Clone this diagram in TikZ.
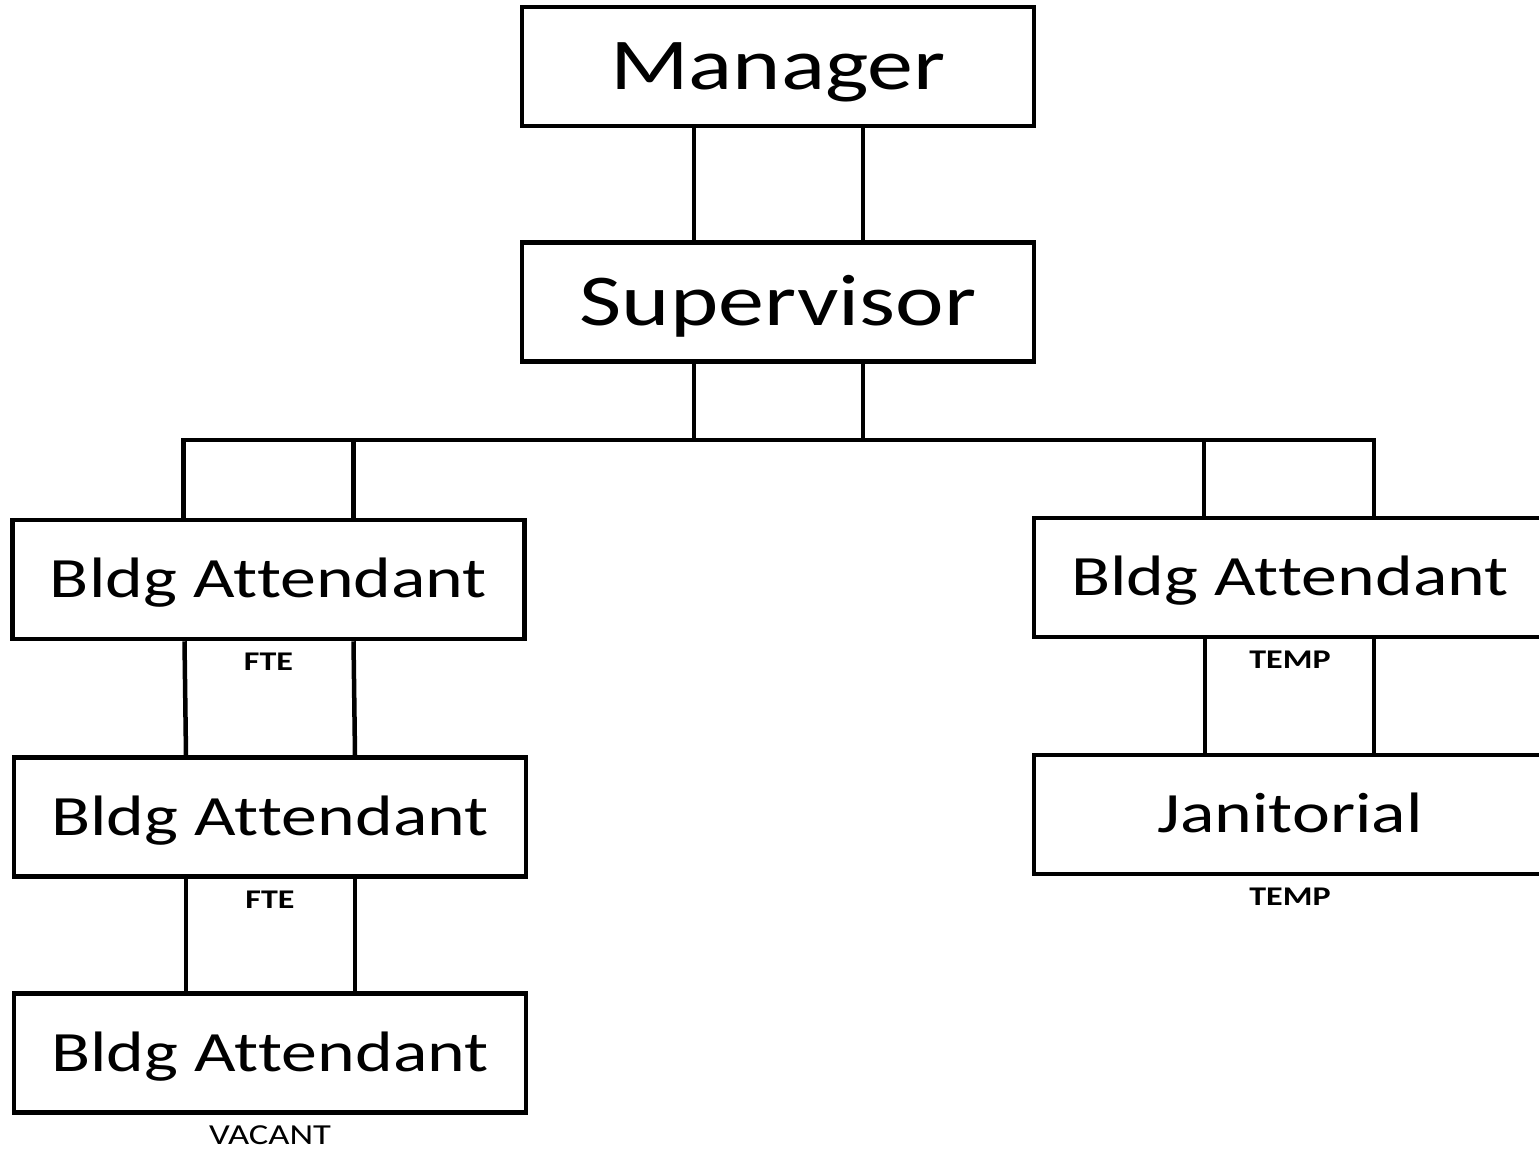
\documentclass[tikz,border=0pt]{standalone}
\usepackage{fontspec}
\setmainfont{Carlito}[FakeStretch=1.26, Ligatures={NoCommon,NoContextual}]
\usetikzlibrary{calc}

\tikzset{
  box/.style={draw, line width=4.5pt, minimum width=512pt, minimum height=119pt, inner sep=0pt, text depth=0pt},
  big/.style={box, font=\fontsize{73}{80}\selectfont, text height=46pt},
  mid/.style={box, font=\fontsize{57}{62}\selectfont, text height=36pt},
  tag/.style={below=12.5pt, inner sep=0pt, text height=17pt, text depth=0pt, font=\fontsize{27}{30}\selectfont\bfseries},
  link/.style={line width=4.5pt}
}

\begin{document}
\begin{tikzpicture}[x=1pt, y=1pt]
\clip (0,0) rectangle (1539,-1149);
\fill[white] (0,0) rectangle (1539,-1149);
\node[big] (mgr) at (778,-66.5) {Manager};
\node[big] (sup) at (778,-302) {Supervisor};
\node[mid] (bl1) at (268.5,-579.5) {Bldg At\kern0pt tendant};
\node[mid] (bl2) at (270,-817) {Bldg At\kern0pt tendant};
\node[mid] (bl3) at (270,-1053) {Bldg At\kern0pt tendant};
\node[mid] (br1) at (1290,-577.5) {Bldg At\kern0pt tendant};
\node[mid] (jan) at (1290,-814.5) {Janitorial};
\node[tag] (tbl1) at (bl1.south) {FTE};
\node[tag] (tbl2) at (bl2.south) {FTE};
\node[tag, font=\fontsize{29}{32}\selectfont] (tbl3) at (bl3.south) {VACANT};
\node[tag] (tbr1) at (br1.south) {TEMP};
\node[tag] (tjan) at (jan.south) {TEMP};
\coordinate (bus) at (778,-440);
\draw[link] ([xshift=-85]bl1.north) |- ([xshift=84]br1.north |- bus) -- ([xshift=84]br1.north);
\draw[link] ([xshift=85]bl1.north) -- ([xshift=85]bl1.north |- bus);
\draw[link] ([xshift=-86]br1.north) -- ([xshift=-86]br1.north |- bus);
\foreach \dx in {-84,85} {
  \draw[link] ([xshift=\dx]mgr.south) -- ([xshift=\dx]sup.north);
  \draw[link] ([xshift=\dx]sup.south) -- ([xshift=\dx]sup.south |- bus);
  \draw[link] ([xshift=\dx]bl1.south) -- ([xshift=\dx]bl2.north);
  \draw[link] ([xshift=\dx]bl2.south) -- ([xshift=\dx]bl3.north);
  \draw[link] ([xshift=\dx-1]br1.south) -- ([xshift=\dx-1]jan.north);
}
\end{tikzpicture}
\end{document}
